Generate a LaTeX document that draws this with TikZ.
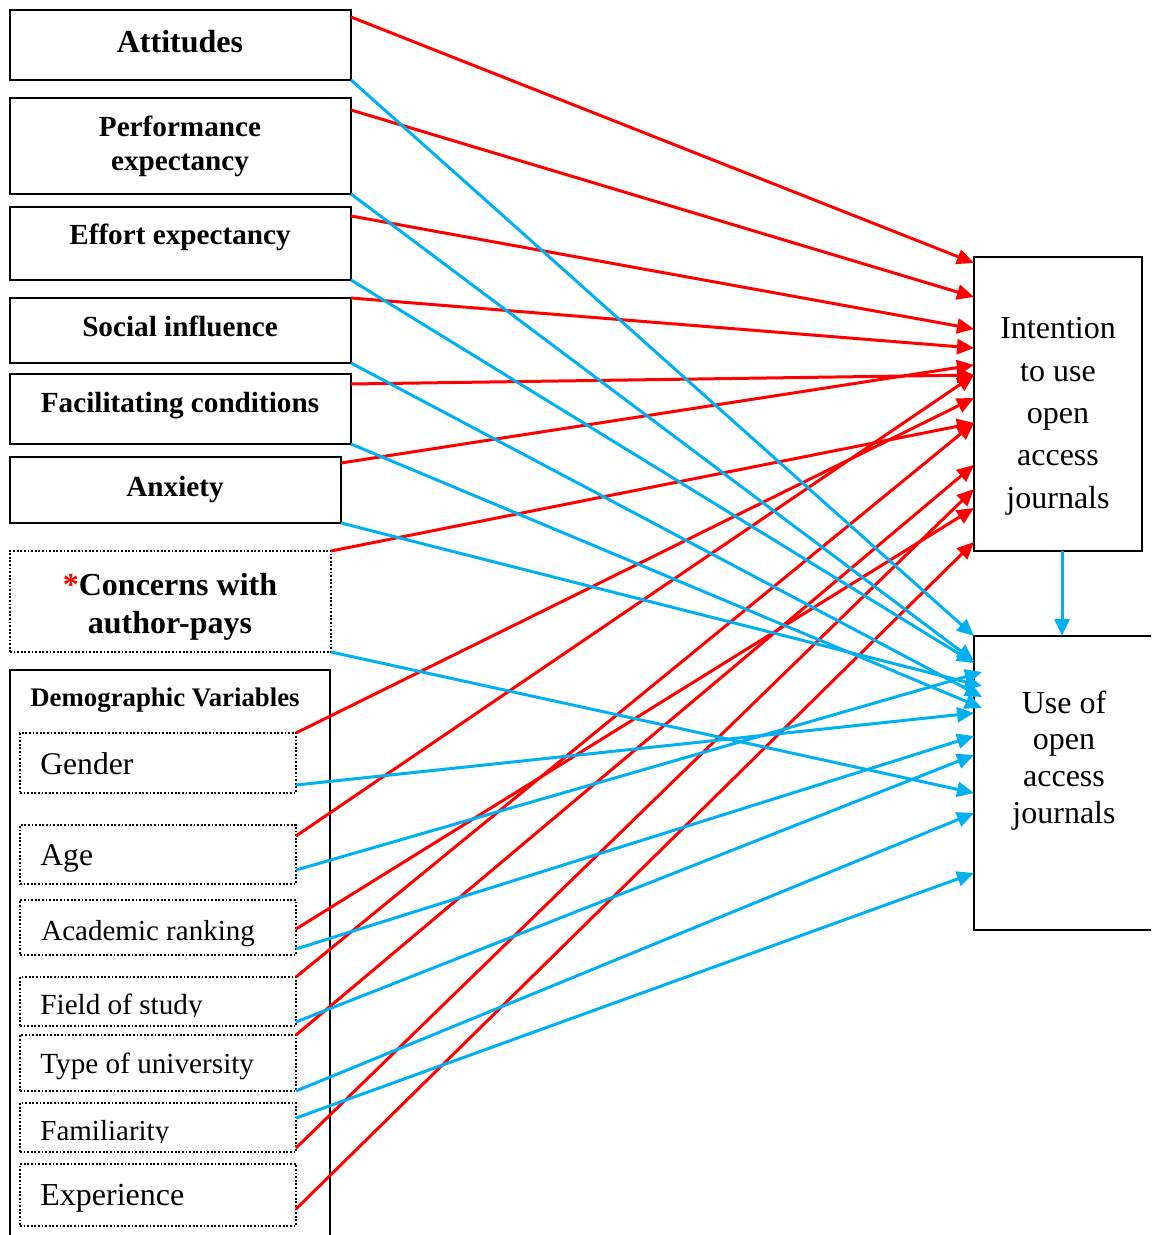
\documentclass[tikz,border=0pt]{standalone}
\usepackage{fontspec}
\setmainfont{Liberation Serif}
\usetikzlibrary{arrows.meta,fit,calc}
\definecolor{linkred}{HTML}{FF0000}
\definecolor{linkblue}{HTML}{00B0F0}

\begin{document}
\begin{tikzpicture}[x=0.5pt,y=-0.5pt,
  solidbox/.style={draw=black,line width=1pt,inner sep=0pt,outer sep=0pt},
  dotbox/.style={draw=black,line width=0.9pt,dash pattern=on 0.9pt off 0.9pt,inner sep=0pt,outer sep=0pt},
  head/.style={anchor=base,inner sep=0pt,font=\fontsize{14.6}{17}\selectfont\bfseries},
  item/.style={anchor=base west,inner sep=0pt,font=\fontsize{14.6}{17}\selectfont},
  goal/.style={anchor=base,inner sep=0pt,font=\fontsize{16}{19}\selectfont},
  tip/.style={-{Triangle[length=8.5pt,width=7.5pt]}},
  redlink/.style={draw=linkred,line width=1.5pt,tip},
  bluelink/.style={draw=linkblue,line width=1.5pt,tip},
]
\useasboundingbox (0,0) rectangle (1151,1235);
\clip (0,0) rectangle (1151,1235);

% ---- construct boxes ----
\node[solidbox,fit={(10,10) (351,80)}]   (att) {};
\node[solidbox,fit={(10,98) (351,194)}]  (perf) {};
\node[solidbox,fit={(10,207) (351,280)}] (eff) {};
\node[solidbox,fit={(10,298) (351,363)}] (soc) {};
\node[solidbox,fit={(10,374) (351,444)}] (fac) {};
\node[solidbox,fit={(10,457) (341,523)}] (anx) {};
\node[dotbox,fit={(10,551) (331,652)}]   (con) {};

\node[head,font=\fontsize{16}{19}\selectfont\bfseries] (attT) at (180,53) {Attitudes};
\node[head] (perfT1) at (180,137) {Performance};
\node[head] (perfT2) at (180,171) {expectancy};
\node[head] (effT) at (180,245) {Effort expectancy};
\node[head] (socT) at (180,336) {Social influence};
\node[head] (facT) at (180,412) {Facilitating conditions};
\node[head] (anxT) at (175,496) {Anxiety};
\node[head,font=\fontsize{16}{19}\selectfont\bfseries] (conT1) at (170,595) {\textcolor{linkred}{*}Concerns with};
\node[head,font=\fontsize{16}{19}\selectfont\bfseries] (conT2) at (170,633) {author-pays};

% ---- demographic variables ----
\node[solidbox,fit={(10,670) (330,1260)}] (demo) {};
\node[head,font=\fontsize{13.4}{16}\selectfont\bfseries] (demoT) at (165,706) {Demographic Variables};

\node[dotbox,fit={(20,733) (296,793)}]   (gen) {};
\node[dotbox,fit={(20,825) (296,884)}]   (age) {};
\node[dotbox,fit={(20,900) (296,955)}]   (acad) {};
\node[dotbox,fit={(20,977) (296,1026)}]  (field) {};
\node[dotbox,fit={(20,1035) (296,1091)}] (type) {};
\node[dotbox,fit={(20,1103) (296,1152)}] (fam) {};
\node[dotbox,fit={(20,1164) (296,1226)}] (exp) {};

\node[item,font=\fontsize{15.8}{18}\selectfont] (genT) at (40,774) {Gender};
\node[item,font=\fontsize{15.8}{18}\selectfont] (ageT) at (40,865) {Age};
\node[item,font=\fontsize{14.5}{17}\selectfont] (acadT) at (41,940) {Academic ranking};
\begin{scope}
  \clip (20,977) rectangle (296,1016);
  \node[item] (fieldT) at (40,1014) {Field of study};
\end{scope}
\node[item] (typeT) at (40,1073) {Type of university};
\begin{scope}
  \clip (20,1103) rectangle (296,1142);
  \node[item,font=\fontsize{14.5}{17}\selectfont] (famT) at (40,1140) {Familiarity};
\end{scope}
\node[item,font=\fontsize{16}{19}\selectfont] (expT) at (40,1205) {Experience};

% ---- outcome boxes ----
\node[solidbox,fit={(974,257) (1142,551)}]  (int) {};
\node[solidbox,fit={(974,636) (1170,930)}]  (use) {};

\node[goal] (intT1) at (1058,338) {Intention};
\node[goal] (intT2) at (1058,381) {to use};
\node[goal] (intT3) at (1058,423) {open};
\node[goal] (intT4) at (1058,465) {access};
\node[goal] (intT5) at (1058,508) {journals};

\node[goal] (useT1) at (1064,713) {Use of};
\node[goal] (useT2) at (1064,749) {open};
\node[goal] (useT3) at (1064,786) {access};
\node[goal] (useT4) at (1064,823) {journals};

% ---- paths to intention ----
\draw[redlink] ($(att.north east)+(0,7)$)   -- ($(int.north west)+(0,6)$);
\draw[redlink] ($(perf.north east)+(0,12)$) -- ($(int.north west)+(0,40)$);
\draw[redlink] ($(eff.north east)+(0,9)$)   -- ($(int.north west)+(0,72)$);
\draw[redlink] (soc.north east)             -- ($(int.north west)+(0,91)$);
\draw[redlink] ($(fac.north east)+(0,10)$)  -- ($(int.north west)+(0,118)$);
\draw[redlink] ($(anx.north east)+(0,6)$)   -- ($(int.north west)+(0,108)$);
\draw[redlink] (con.north east)             -- ($(int.north west)+(0,166)$);
\draw[redlink] (gen.north east)             -- ($(int.north west)+(0,141)$);
\draw[redlink] ($(age.north east)+(0,11)$)  -- ($(int.north west)+(0,118)$);
\draw[redlink] ($(acad.north east)+(0,29)$) -- ($(int.north west)+(0,251)$);
\draw[redlink] (field.north east)           -- ($(int.north west)+(0,166)$);
\draw[redlink] (type.north east)            -- ($(int.north west)+(0,208)$);
\draw[redlink] ($(fam.south east)+(0,-4)$)  -- ($(int.north west)+(0,232)$);
\draw[redlink] ($(exp.north east)+(0,45)$)  -- ($(int.north west)+(0,285)$);

% ---- paths to use ----
\draw[bluelink] (att.south east)  -- (use.north west);
\draw[bluelink] (perf.south east) -- ($(use.north west)+(0,25)$);
\draw[bluelink] (eff.south east)  -- ($(use.north west)+(0,27)$);
\draw[bluelink] (soc.south east)  -- ($(use.north west)+(8,61)$);
\draw[bluelink] (fac.south east)  -- ($(use.north west)+(8,72)$);
\draw[bluelink] (anx.south east)  -- ($(use.north west)+(8,50)$);
\draw[bluelink] (con.south east)  -- ($(use.north west)+(0,157)$);
\draw[bluelink] ($(gen.south east)+(0,-8)$)   -- ($(use.north west)+(0,77)$);
\draw[bluelink] ($(age.south east)+(0,-14)$)  -- ($(use.north west)+(8,36)$);
\draw[bluelink] ($(acad.south east)+(0,-6)$)  -- ($(use.north west)+(0,100)$);
\draw[bluelink] ($(field.south east)+(0,-4)$) -- ($(use.north west)+(0,119)$);
\draw[bluelink] (type.south east) -- ($(use.north west)+(0,177)$);
\draw[bluelink] ($(fam.north east)+(0,15)$)   -- ($(use.north west)+(0,237)$);

\draw[bluelink] ($(int.south west)+(88,0)$) -- ($(use.north west)+(88,0)$);
\end{tikzpicture}
\end{document}
